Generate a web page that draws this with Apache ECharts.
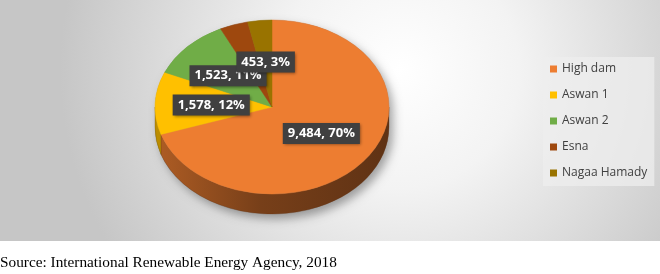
<!DOCTYPE html>
<html>
<head>
<meta charset="utf-8">
<script src="https://cdn.jsdelivr.net/npm/echarts@6/dist/echarts.min.js"></script>
<style>
html,body{margin:0;padding:0;background:#fff;}
#main{width:660px;height:274px;}
</style>
</head>
<body>
<div id="main"></div>
<script>
var categories = ['High dam', 'Aswan 1', 'Aswan 2', 'Esna', 'Nagaa Hamady'];
var values = [9484, 1578, 1523, 530, 453];
var colors = ['#ED7D31', '#FFC000', '#70AD47', '#9E480E', '#997300'];
var hiddenLabels = ['Esna'];
var sourceText = 'Source: International Renewable Energy Agency, 2018';

var chart = echarts.init(document.getElementById('main'), null, {renderer: 'canvas'});

var total = values.reduce(function (a, b) { return a + b; }, 0);
var PIE = {cx: 272, cy: 107, rx: 117, ry: 87, depth: 20, labelR: 0.52};

function shade(hex, f) {
  var r = parseInt(hex.slice(1, 3), 16), g = parseInt(hex.slice(3, 5), 16), b = parseInt(hex.slice(5, 7), 16);
  return 'rgb(' + Math.round(r * f) + ',' + Math.round(g * f) + ',' + Math.round(b * f) + ')';
}
function pt(a, dy) {
  return [PIE.cx + PIE.rx * Math.cos(a), PIE.cy + PIE.ry * Math.sin(a) + (dy || 0)];
}
function fmt(v) { return v.toLocaleString('en-US'); }

function makeRender(i) {
  return function (params, api) {
    var v = api.value(0);
    var before = 0;
    for (var k = 0; k < i; k++) before += values[k];
    var s = -Math.PI / 2 + before / total * Math.PI * 2;
    var e = s + v / total * Math.PI * 2;
    var children = [];
    var p1 = pt(s), p2 = pt(e);
    var large = (e - s) > Math.PI ? 1 : 0;
    var topPath = 'M' + PIE.cx + ',' + PIE.cy + 'L' + p1[0] + ',' + p1[1] +
      'A' + PIE.rx + ',' + PIE.ry + ',0,' + large + ',1,' + p2[0] + ',' + p2[1] + 'Z';
    children.push({
      type: 'path', z2: 20,
      shape: {pathData: topPath},
      style: {fill: colors[i], stroke: colors[i], lineWidth: 0.5}
    });
    var a = Math.max(s, 0), b = Math.min(e, Math.PI);
    if (b > a) {
      var t1 = pt(a), t2 = pt(b), b1 = pt(a, PIE.depth), b2 = pt(b, PIE.depth);
      var wall = 'M' + t1[0] + ',' + t1[1] +
        'A' + PIE.rx + ',' + PIE.ry + ',0,0,1,' + t2[0] + ',' + t2[1] +
        'L' + b2[0] + ',' + b2[1] +
        'A' + PIE.rx + ',' + PIE.ry + ',0,0,0,' + b1[0] + ',' + b1[1] + 'Z';
      children.push({
        type: 'path', z2: 10,
        shape: {pathData: wall},
        style: {
          fill: {
            type: 'linear', global: true,
            x: PIE.cx - PIE.rx, y: 0, x2: PIE.cx + PIE.rx, y2: 0,
            colorStops: [
              {offset: 0, color: shade(colors[i], 0.74)},
              {offset: 0.45, color: shade(colors[i], 0.5)},
              {offset: 1, color: shade(colors[i], 0.4)}
            ]
          },
          stroke: shade(colors[i], 0.45), lineWidth: 0.3
        }
      });
    }
    if (hiddenLabels.indexOf(categories[i]) < 0) {
      var m = (s + e) / 2;
      var lx = PIE.cx + PIE.rx * PIE.labelR * Math.cos(m);
      var ly = PIE.cy + PIE.ry * PIE.labelR * Math.sin(m);
      children.push({
        type: 'text', z2: 100 + i,
        x: lx, y: ly,
        style: {
          text: fmt(v) + ', ' + Math.round(v / total * 100) + '%',
          fill: '#ffffff',
          fontFamily: 'Open Sans', fontWeight: 'bold', fontSize: 13,
          align: 'center', verticalAlign: 'middle',
          backgroundColor: '#404040',
          padding: [4, 5, 4, 5],
          shadowColor: 'rgba(0,0,0,0.45)', shadowBlur: 3, shadowOffsetX: 1.5, shadowOffsetY: 1.5
        }
      });
    }
    return {type: 'group', children: children};
  };
}

var series = categories.map(function (name, i) {
  return {
    type: 'custom',
    name: name,
    coordinateSystem: 'none',
    itemStyle: {color: colors[i]},
    silent: true,
    animation: false,
    data: [[values[i]]],
    renderItem: makeRender(i)
  };
});

series.unshift({
  type: 'custom',
  name: '_shadow',
  coordinateSystem: 'none',
  silent: true,
  animation: false,
  data: [[total]],
  renderItem: function () {
    var l = pt(Math.PI), r = pt(0), lb = pt(Math.PI, PIE.depth), rb = pt(0, PIE.depth);
    var d = 'M' + l[0] + ',' + l[1] +
      'A' + PIE.rx + ',' + PIE.ry + ',0,0,1,' + r[0] + ',' + r[1] +
      'L' + rb[0] + ',' + rb[1] +
      'A' + PIE.rx + ',' + PIE.ry + ',0,0,1,' + lb[0] + ',' + lb[1] + 'Z';
    return {
      type: 'path', z2: 0,
      shape: {pathData: d},
      style: {fill: '#888', shadowColor: 'rgba(0,0,0,0.35)', shadowBlur: 10, shadowOffsetX: 4, shadowOffsetY: 5}
    };
  }
});

chart.setOption({
  animation: false,
  color: colors,
  graphic: [
    {
      type: 'rect', z: -10, silent: true,
      shape: {x: 0, y: 0, width: 660, height: 241},
      style: {
        fill: {
          type: 'radial', global: true, x: 400, y: 70, r: 340,
          colorStops: [
            {offset: 0, color: '#ffffff'},
            {offset: 0.35, color: '#f3f3f3'},
            {offset: 1, color: '#c6c6c6'}
          ]
        }
      }
    },
    {
      type: 'text', left: 0, top: 255, silent: true,
      style: {text: sourceText, fill: '#000', fontFamily: 'Liberation Serif', fontSize: 15.3}
    }
  ],
  legend: {
    data: categories,
    orient: 'vertical',
    left: 543, top: 57,
    padding: [5, 7, 6, 7],
    backgroundColor: 'rgba(238,238,238,0.75)',
    icon: 'rect',
    itemWidth: 7, itemHeight: 7,
    itemGap: 12,
    selectedMode: false,
    textStyle: {color: '#404040', fontFamily: 'Open Sans', fontSize: 12, lineHeight: 14}
  },
  series: series
});
</script>
</body>
</html>
